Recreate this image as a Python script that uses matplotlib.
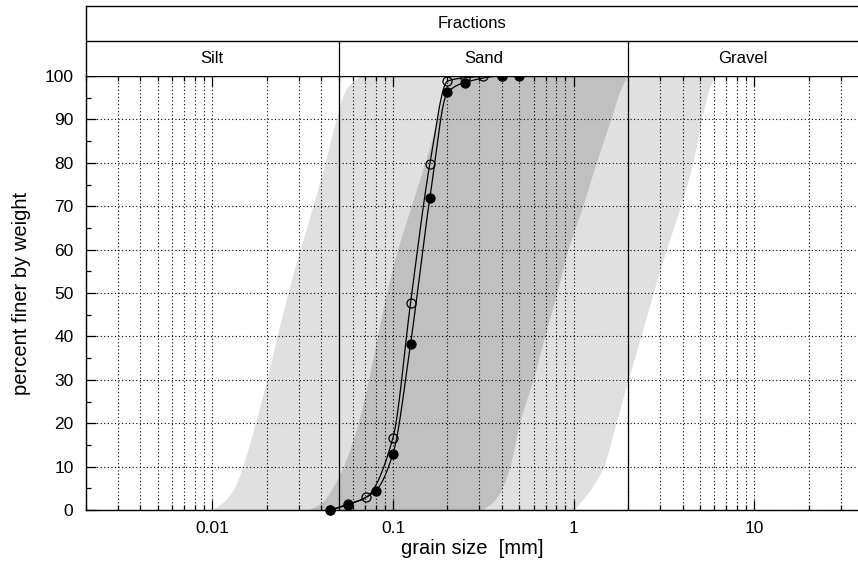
import numpy as np
import matplotlib
matplotlib.use("Agg")
import matplotlib.pyplot as plt
from matplotlib.ticker import FixedLocator, NullFormatter, FuncFormatter

plt.rcParams['font.family'] = ['Liberation Sans', 'DejaVu Sans']

# grain size distribution of two samples (sieve size [mm], percent passing)
size_filled = [0.045, 0.056, 0.08, 0.1, 0.125, 0.16, 0.2, 0.25, 0.4, 0.5]
pass_filled = [0.0, 1.2, 4.4, 13.0, 38.3, 72.0, 96.2, 98.5, 100.0, 100.0]
size_open = [0.045, 0.056, 0.071, 0.1, 0.125, 0.16, 0.2, 0.25, 0.315, 0.4]
pass_open = [0.0, 1.3, 2.9, 16.7, 47.7, 79.8, 98.8, 99.6, 99.9, 100.0]

# envelope bands (grain size of each edge at the given percent)
band_pct = [0, 2, 5, 10, 20, 30, 40, 50, 60, 70, 80, 90, 97, 100]
outer_left = [0.0100, 0.0116, 0.0132, 0.0147, 0.0173, 0.0200, 0.0228,
              0.0262, 0.0306, 0.0360, 0.0420, 0.0485, 0.0550, 0.0650]
outer_right = [1.00, 1.10, 1.25, 1.46, 1.71, 2.00, 2.35,
               2.75, 3.25, 3.90, 4.55, 5.10, 5.60, 6.00]
inner_left = [0.034, 0.041, 0.046, 0.053, 0.064, 0.073, 0.082,
              0.092, 0.106, 0.126, 0.150, 0.176, 0.192, 0.205]
inner_right = [0.31, 0.36, 0.40, 0.443, 0.50, 0.595, 0.69,
               0.805, 0.93, 1.12, 1.33, 1.60, 1.82, 1.97]

# fractions header
frac_bounds = [0.05, 2.0]
frac_names = ['Silt', 'Sand', 'Gravel']

x_min, x_max = 0.002, 37.4
x_major = [0.01, 0.1, 1, 10]


def pchip(x, y, xnew):
    # monotone cubic through the points (only used to draw smooth lines)
    x = np.asarray(x, float)
    y = np.asarray(y, float)
    h = np.diff(x)
    d = np.diff(y) / h
    m = np.zeros_like(y)
    for k in range(1, len(x) - 1):
        if d[k - 1] * d[k] > 0:
            w1 = 2 * h[k] + h[k - 1]
            w2 = h[k] + 2 * h[k - 1]
            m[k] = (w1 + w2) / (w1 / d[k - 1] + w2 / d[k])
    m[0] = d[0]
    m[-1] = d[-1]
    idx = np.clip(np.searchsorted(x, xnew) - 1, 0, len(h) - 1)
    t = (xnew - x[idx]) / h[idx]
    h00 = 2 * t**3 - 3 * t**2 + 1
    h10 = t**3 - 2 * t**2 + t
    h01 = -2 * t**3 + 3 * t**2
    h11 = t**3 - t**2
    return (h00 * y[idx] + h10 * h[idx] * m[idx]
            + h01 * y[idx + 1] + h11 * h[idx] * m[idx + 1])


fig = plt.figure(figsize=(8.58, 5.74), dpi=100)
ax = fig.add_axes([86 / 858, 1 - 510 / 574, 1 - 86 / 858, 434 / 574])
hdr = fig.add_axes([86 / 858, 1 - 76 / 574, 1 - 86 / 858, 70 / 574])

# bands
pp = np.linspace(0, 100, 400)


def edge(sizes):
    return 10 ** pchip(band_pct, np.log10(sizes), pp)


ax.fill_betweenx(pp, edge(outer_left), edge(outer_right), color='#e0e0e0', lw=0, zorder=0)
ax.fill_betweenx(pp, edge(inner_left), edge(inner_right), color='#c0c0c0', lw=0, zorder=0.5)

# grid
dot = (0, (1, 2.2))
ax.grid(True, which='both', axis='x', color='black', ls=dot, lw=0.8, zorder=1)
ax.grid(True, which='major', axis='y', color='black', ls=dot, lw=0.8, zorder=1)

for b in frac_bounds:
    ax.axvline(b, color='black', lw=0.9, zorder=2)
    hdr.plot([b, b], [0, 1], color='black', lw=0.9)

# sample curves
for sizes, vals, face in [(size_open, pass_open, 'none'), (size_filled, pass_filled, 'black')]:
    lx = np.log10(sizes)
    xs = np.linspace(lx[0], lx[-1], 300)
    ax.plot(10 ** xs, pchip(lx, vals, xs), color='black', lw=0.9, zorder=3)
    ax.plot(sizes, vals, 'o', ms=6.5, mfc=face, mec='black', mew=0.9, zorder=4, clip_on=False)

ax.set_xscale('log')
ax.set_xlim(x_min, x_max)
ax.set_ylim(0, 100)
minor = [m * 10.0 ** e for e in range(-3, 2) for m in range(2, 10)]
ax.xaxis.set_major_locator(FixedLocator(x_major))
ax.xaxis.set_minor_locator(FixedLocator(minor))
ax.xaxis.set_major_formatter(FuncFormatter(lambda v, p: '%g' % v))
ax.xaxis.set_minor_formatter(NullFormatter())
ax.set_yticks(np.arange(0, 101, 10))
ax.set_yticks(np.arange(5, 100, 10), minor=True)
ax.tick_params(which='major', direction='in', length=7, width=0.9, labelsize=12.5,
               top=True, right=False)
ax.tick_params(which='minor', direction='in', length=3.5, width=0.9, top=True, right=False)
ax.tick_params(axis='x', pad=8)
ax.tick_params(axis='y', pad=9)
for s in ['left', 'bottom', 'top']:
    ax.spines[s].set_linewidth(1.0)
ax.spines['right'].set_visible(False)

ax.set_xlabel('grain size  [mm]', fontsize=14.5, labelpad=2)
ax.set_ylabel('percent finer by weight', fontsize=14.5, labelpad=10)

# header table
hdr.set_xscale('log')
hdr.set_xlim(x_min, x_max)
hdr.set_ylim(0, 2)
hdr.set_xticks([])
hdr.set_yticks([])
hdr.minorticks_off()
hdr.axhline(1, color='black', lw=1.0)
hdr.spines['right'].set_visible(False)
hdr.spines['bottom'].set_visible(False)
for s in ['left', 'top']:
    hdr.spines[s].set_linewidth(1.0)
hdr.text(np.sqrt(x_min * x_max), 1.5, 'Fractions', ha='center', va='center', fontsize=12)
edges = [x_min] + frac_bounds + [x_max]
for name, a, b in zip(frac_names, edges[:-1], edges[1:]):
    hdr.text(np.sqrt(a * b), 0.5, name, ha='center', va='center', fontsize=12)

fig.savefig('out.png', dpi=100)
